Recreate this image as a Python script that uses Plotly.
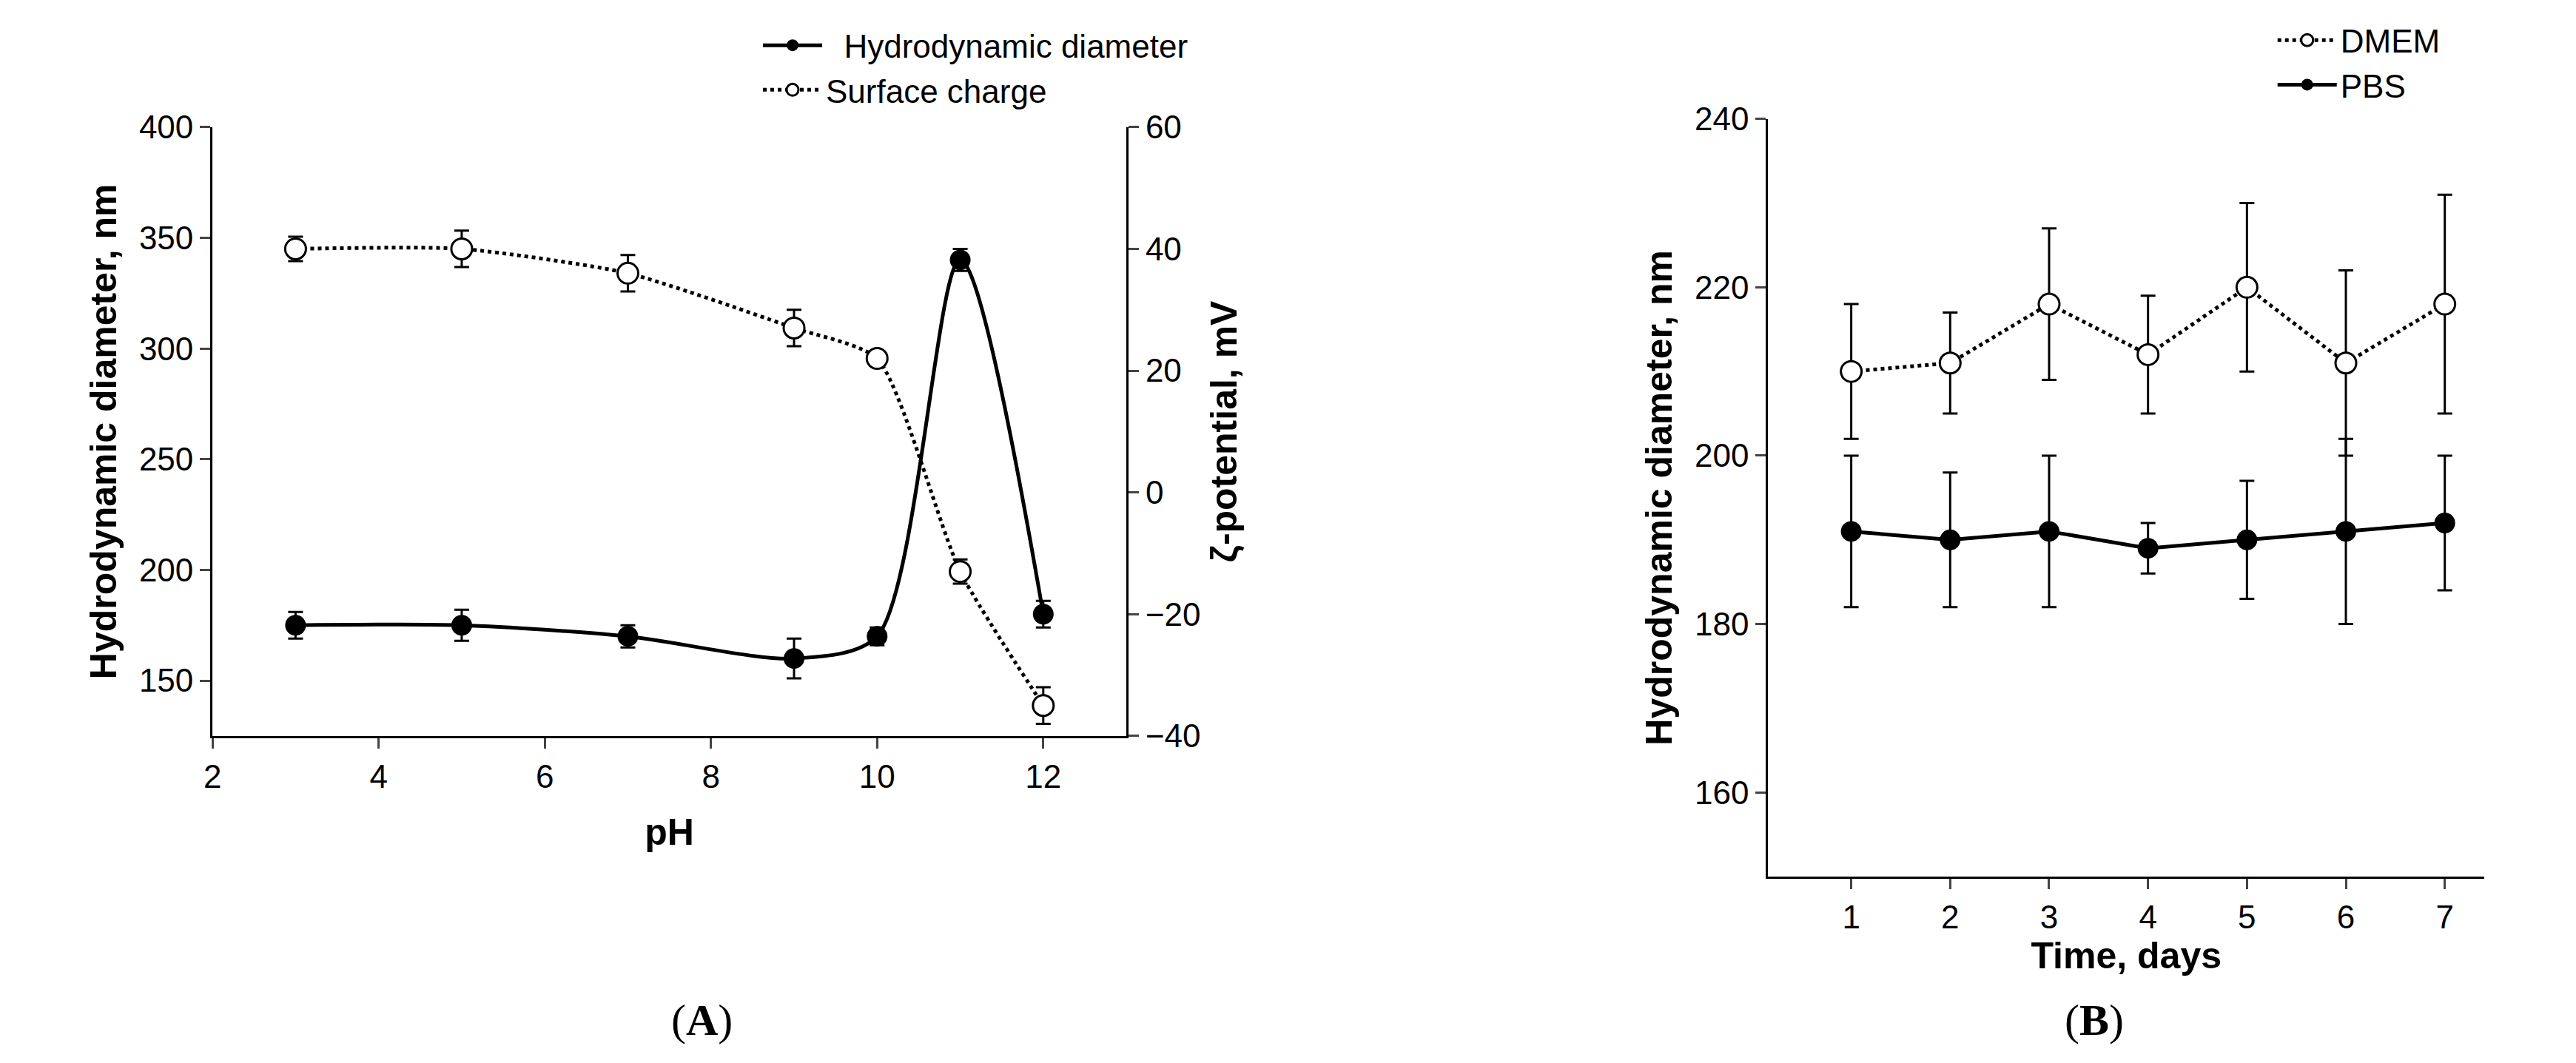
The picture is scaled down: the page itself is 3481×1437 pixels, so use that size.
import plotly.graph_objects as go

# panel A
ph = [3, 5, 7, 9, 10, 11, 12]
hydro_d = [175, 175, 170, 160, 170, 340, 180]
hydro_err = [6, 7, 5, 9, 4, 5, 6]
zeta = [40, 40, 36, 27, 22, -13, -35]
zeta_err = [2, 3, 3, 3, 1, 2, 3]

# panel B
days = [1, 2, 3, 4, 5, 6, 7]
dmem = [210, 211, 218, 212, 220, 211, 218]
dmem_err = [8, 6, 9, 7, 10, 11, 13]
pbs = [191, 190, 191, 189, 190, 191, 192]
pbs_err = [9, 8, 9, 3, 7, 11, 8]

fnt = 'Liberation Sans'
fig = go.Figure()

def err(v):
    return dict(type='data', array=v, color='black', thickness=3, width=10)

fig.add_trace(go.Scatter(x=ph, y=hydro_d, error_y=err(hydro_err), mode='lines+markers',
    line=dict(color='black', width=5, shape='spline', smoothing=0.8),
    marker=dict(color='black', size=28), name='  Hydrodynamic diameter',
    xaxis='x', yaxis='y', legend='legend'))
fig.add_trace(go.Scatter(x=ph, y=zeta, error_y=err(zeta_err), mode='lines+markers',
    line=dict(color='black', width=5, dash='dot', shape='spline', smoothing=0.6),
    marker=dict(color='white', size=28, line=dict(color='black', width=3)),
    name='Surface charge', xaxis='x', yaxis='y2', legend='legend'))

fig.add_trace(go.Scatter(x=days, y=dmem, error_y=err(dmem_err), mode='lines+markers',
    line=dict(color='black', width=5, dash='dot'),
    marker=dict(color='white', size=28, line=dict(color='black', width=3)),
    name='DMEM', xaxis='x3', yaxis='y3', legend='legend2'))
fig.add_trace(go.Scatter(x=days, y=pbs, error_y=err(pbs_err), mode='lines+markers',
    line=dict(color='black', width=5),
    marker=dict(color='black', size=28), name='PBS',
    xaxis='x3', yaxis='y3', legend='legend2'))

ax = dict(showline=True, linecolor='black', linewidth=3, ticks='outside', ticklen=14,
          tickwidth=3, showgrid=False, zeroline=False,
          tickfont=dict(family=fnt, size=44, color='black'))
tt = dict(family=fnt, size=50, color='black', weight='bold')
lf = dict(family=fnt, size=44, color='black')

fig.update_layout(
    width=3481, height=1437, margin=dict(l=0, r=0, t=0, b=0),
    paper_bgcolor='white', plot_bgcolor='white',
    xaxis=dict(ax, domain=[0.077, 0.433], range=[2, 13], dtick=2, anchor='y',
               title=dict(text='pH', font=tt, standoff=35)),
    yaxis=dict(ax, domain=[0.307, 0.9], range=[125, 400], tickvals=[150, 200, 250, 300, 350, 400],
               anchor='x', title=dict(text='Hydrodynamic diameter, nm', font=tt, standoff=15)),
    yaxis2=dict(ax, overlaying='y', side='right', range=[-40, 60], dtick=20, anchor='x',
                title=dict(text='ζ-potential, mV', font=tt, standoff=15)),
    xaxis3=dict(ax, domain=[0.683, 0.962], range=[0.16, 7.4], dtick=1, anchor='y3',
                title=dict(text='Time, days', font=tt, standoff=10)),
    yaxis3=dict(ax, domain=[0.17, 0.908], range=[150, 240], tickvals=[160, 180, 200, 220, 240],
                anchor='x3', title=dict(text='Hydrodynamic diameter, nm', font=tt, standoff=15)),
    legend=dict(x=0.29, y=1.005, xanchor='left', yanchor='top', bgcolor='rgba(0,0,0,0)',
                font=lf, itemwidth=80),
    legend2=dict(x=0.88, y=1.01, xanchor='left', yanchor='top', bgcolor='rgba(0,0,0,0)',
                 font=lf, itemwidth=80),
    annotations=[
        dict(text='(<b>A</b>)', x=0.255, y=0.005, xref='paper', yref='paper', yanchor='bottom',
             showarrow=False, font=dict(family='Liberation Serif', size=60, color='black')),
        dict(text='(<b>B</b>)', x=0.822, y=0.005, xref='paper', yref='paper', yanchor='bottom',
             showarrow=False, font=dict(family='Liberation Serif', size=60, color='black')),
    ],
)
fig.write_html('out.html')
